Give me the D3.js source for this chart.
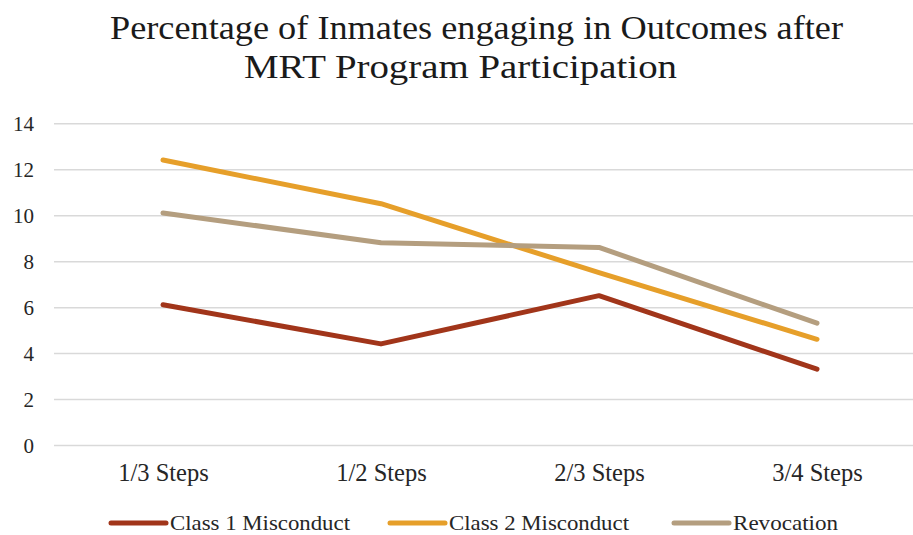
<!DOCTYPE html>
<html>
<head>
<meta charset="utf-8">
<script src="https://cdn.jsdelivr.net/npm/d3@7"></script>
<style>
  html, body { margin: 0; padding: 0; background: #fff; }
  svg { display: block; }
  svg text { font-family: "Liberation Serif", "DejaVu Serif", serif; }
</style>
</head>
<body>
<svg id="chart" width="913" height="535"></svg>
<script>
const categories = ["1/3 Steps", "1/2 Steps", "2/3 Steps", "3/4 Steps"];
const seriesNames = ["Class 1 Misconduct", "Class 2 Misconduct", "Revocation"];
const class1Values = [6.1, 4.4, 6.5, 3.3];
const class2Values = [12.4, 10.5, 7.5, 4.6];
const revocationValues = [10.1, 8.8, 8.6, 5.3];
const yTicks = [0, 2, 4, 6, 8, 10, 12, 14];
const titleLines = ["Percentage of  Inmates engaging in Outcomes after", "MRT Program Participation"];

const colors = ["#A1351A", "#E69F2A", "#B49E7F"];
const series = [class1Values, class2Values, revocationValues].map((v, i) => ({
  name: seriesNames[i], values: v, color: colors[i]
}));

const svg = d3.select("#chart");
const W = 913, H = 535;
const serif = "'Liberation Serif', 'DejaVu Serif', serif";

const x = d3.scalePoint().domain(categories).range([163, 817]);
const y = d3.scaleLinear().domain([0, 14]).range([445, 123.3]);

// title
const titleSpec = [{cx: 476.5, y: 39, w: 733}, {cx: 460.5, y: 78, w: 433}];
titleLines.forEach((t, i) => {
  svg.append("text")
    .attr("x", titleSpec[i].cx).attr("y", titleSpec[i].y)
    .attr("text-anchor", "middle")
    .style("font-family", serif)
    .attr("font-size", 33)
    .attr("fill", "#1a1a1a")
    .attr("textLength", titleSpec[i].w)
    .attr("lengthAdjust", "spacingAndGlyphs")
    .text(t);
});

// gridlines
const grid = svg.append("g")
  .attr("transform", "translate(54,0)")
  .call(d3.axisLeft(y).tickValues(yTicks).tickSize(-(W - 54)).tickFormat(""));
grid.select(".domain").remove();
grid.selectAll(".tick line").attr("stroke", "#d9d9d9").attr("stroke-width", 1.5);

// y labels
const yAxis = svg.append("g").attr("transform", "translate(34,0)")
  .call(d3.axisLeft(y).tickValues(yTicks).tickSize(0).tickPadding(0).tickFormat(d3.format("d")));
yAxis.select(".domain").remove();
yAxis.attr("font-family", null);
yAxis.selectAll("text")
  .style("font-family", serif)
  .attr("font-size", 21).attr("fill", "#262626").attr("dy", "0.34em");

// x labels
const xAxis = svg.append("g").attr("transform", "translate(0,445)")
  .call(d3.axisBottom(x).tickSize(0).tickPadding(0));
xAxis.select(".domain").remove();
xAxis.attr("font-family", null);
xAxis.selectAll("text")
  .style("font-family", serif)
  .attr("font-size", 24.5).attr("fill", "#262626")
  .attr("dy", null).attr("y", 36);

// lines
const line = d3.line().x((d, i) => x(categories[i])).y(d => y(d));
svg.append("g").selectAll("path").data(series).join("path")
  .attr("d", d => line(d.values))
  .attr("fill", "none")
  .attr("stroke", d => d.color)
  .attr("stroke-width", 5)
  .attr("stroke-linecap", "round")
  .attr("stroke-linejoin", "round");

// legend
const legendX = [111, 390, 674];
const leg = svg.append("g").selectAll("g").data(series).join("g")
  .attr("transform", (d, i) => `translate(${legendX[i]},523)`);
leg.append("line").attr("x1", 0).attr("x2", 55).attr("y1", 0).attr("y2", 0)
  .attr("stroke", d => d.color).attr("stroke-width", 5).attr("stroke-linecap", "round");
leg.append("text").attr("x", 59).attr("y", 6.5)
  .style("font-family", serif)
  .attr("font-size", 22)
  .attr("textLength", (d, i) => [180, 180, 105][i])
  .attr("lengthAdjust", "spacingAndGlyphs")
  .attr("fill", "#262626")
  .text(d => d.name);
</script>
</body>
</html>
